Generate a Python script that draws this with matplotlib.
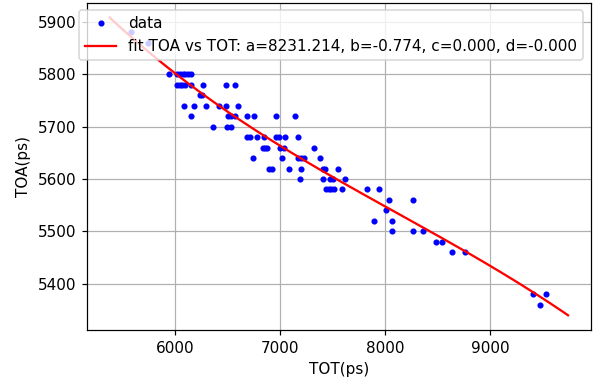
import numpy as np
import matplotlib
matplotlib.use("Agg")
import matplotlib.pyplot as plt

# measured TOT / TOA pairs (ps)
tot_ps = [
    5580,
    5745,
    5940, 6025, 6050, 6075, 6100, 6125, 6150,
    6025, 6045, 6070, 6095, 6155, 6270, 6485, 6575,
    6235, 6260,
    6090, 6180, 6300, 6420, 6485, 6600,
    6150, 6505, 6530, 6575, 6690, 6750, 6960, 7140,
    6360, 6500, 6530,
    6690, 6715, 6780, 6845, 6960, 6990, 7050, 7170,
    6835, 6855, 6880, 7005, 7040, 7320,
    6745, 7020, 7170, 7200, 7225, 7385,
    6900, 6925, 7090, 7200, 7405, 7430, 7555,
    7195, 7410, 7475, 7500, 7620,
    7440, 7465, 7490, 7510, 7590, 7825, 7945,
    8040, 8270,
    8005,
    7890, 8065,
    8065, 8270, 8365,
    8485, 8540,
    8635, 8760,
    9405, 9535,
    9475,
]
toa_ps = (
    [5880] * 1 + [5860] * 1 + [5800] * 7 + [5780] * 8 + [5760] * 2
    + [5740] * 6 + [5720] * 8 + [5700] * 3 + [5680] * 8 + [5660] * 6
    + [5640] * 6 + [5620] * 7 + [5600] * 5 + [5580] * 7 + [5560] * 2
    + [5540] * 1 + [5520] * 2 + [5500] * 3 + [5480] * 2 + [5460] * 2
    + [5380] * 2 + [5360] * 1
)

# cubic fit TOA = a + b*TOT + c*TOT^2 + d*TOT^3
fit_a = 8231.214
fit_b = -0.774
fit_c = 8.162e-5
fit_d = -3.35e-9
fit_tot_range = (5380, 9740)

tot = np.array(tot_ps, dtype=float)
toa = np.array(toa_ps, dtype=float)
x_fit = np.linspace(fit_tot_range[0], fit_tot_range[1], 200)
y_fit = fit_a + fit_b * x_fit + fit_c * x_fit**2 + fit_d * x_fit**3

DPI = 110
fig = plt.figure(figsize=(596 / DPI, 383 / DPI), dpi=DPI)
ax = fig.add_axes([0.1455, 0.138, 0.846, 0.855])

ax.plot(tot, toa, 'b.', label='data')
ax.plot(x_fit, y_fit, 'r-',
        label='fit TOA vs TOT: a=%.3f, b=%.3f, c=%.3f, d=%.3f' % (fit_a, fit_b, fit_c, fit_d))
ax.set_xlabel('TOT(ps)')
ax.set_ylabel('TOA(ps)')
ax.grid(True)
ax.legend(loc='upper right')

fig.savefig('out.png', dpi=DPI)
